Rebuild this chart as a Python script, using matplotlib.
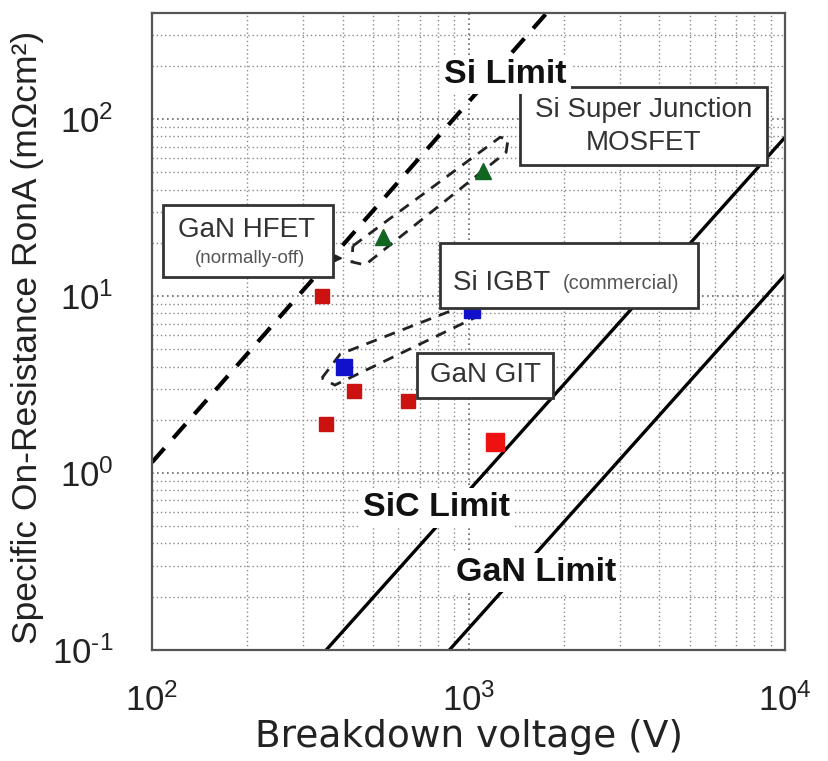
import math
import matplotlib
matplotlib.use("Agg")
import matplotlib.pyplot as plt
from matplotlib.patches import Polygon, Rectangle
from matplotlib.ticker import LogLocator, NullFormatter, FuncFormatter

plt.rcParams["font.family"] = ["Liberation Sans", "DejaVu Sans"]
plt.rcParams["mathtext.fontset"] = "custom"
plt.rcParams["mathtext.rm"] = "Liberation Sans"
plt.rcParams["mathtext.it"] = "Liberation Sans"

# material limits (breakdown voltage V, specific on-resistance mOhm cm2)
si_limit_v = [100, 1770]
si_limit_ron = [1.15, 400]
sic_limit_v = [355, 10000]
sic_limit_ron = [0.1, 79]
gan_limit_v = [870, 10000]
gan_limit_ron = [0.1, 13.2]

# reported devices
gan_git_v = [345, 355, 435, 645]
gan_git_ron = [10, 1.9, 2.9, 2.55]
gan_git_best_v = [1210]
gan_git_best_ron = [1.5]
si_igbt_v = [405, 1025]
si_igbt_ron = [4.0, 8.3]
gan_hfet_v = [535, 1110]
gan_hfet_ron = [21.5, 51]

# outlines of the device regions
sj_region_v = [431, 1258, 1333, 1314, 471, 428]
sj_region_ron = [19.2, 79, 77, 65, 15.0, 15.6]
igbt_region_v = [344, 393, 1072, 1119, 1040, 378]
igbt_region_ron = [3.44, 4.70, 9.48, 8.78, 7.51, 3.14]


def pow10(val, pos):
    e = int(round(math.log10(val)))
    return r"$10^{\text{%d}}$" % e


fig = plt.figure(figsize=(8.29, 7.61), dpi=100)
ax = fig.add_axes([0.1834, 0.1459, 0.7636, 0.837])
ax.set_xscale("log")
ax.set_yscale("log")
ax.set_xlim(100, 10000)
ax.set_ylim(0.1, 398)

ax.xaxis.set_minor_locator(LogLocator(base=10, subs=range(2, 10)))
ax.yaxis.set_minor_locator(LogLocator(base=10, subs=range(2, 10)))
ax.xaxis.set_major_formatter(FuncFormatter(pow10))
ax.yaxis.set_major_formatter(FuncFormatter(pow10))
ax.xaxis.set_minor_formatter(NullFormatter())
ax.yaxis.set_minor_formatter(NullFormatter())
ax.grid(True, which="major", color="#666666", linestyle=(0, (1, 2)), linewidth=1.2)
ax.grid(True, which="minor", color="#8a8a8a", linestyle=(0, (1, 2)), linewidth=1.0)
ax.set_axisbelow(True)
ax.tick_params(which="both", length=0, labelsize=25, colors="#222222")
ax.tick_params(axis="x", pad=24)
ax.tick_params(axis="y", pad=28)
for s in ax.spines.values():
    s.set_color("#555555")
    s.set_linewidth(1.6)

ax.plot(si_limit_v, si_limit_ron, color="black", lw=3.0, linestyle=(0, (4.5, 3.2)), zorder=2)
ax.plot(sic_limit_v, sic_limit_ron, color="black", lw=2.4, zorder=2)
ax.plot(gan_limit_v, gan_limit_ron, color="black", lw=2.4, zorder=2)

for vv, rr in [(sj_region_v, sj_region_ron), (igbt_region_v, igbt_region_ron)]:
    ax.add_patch(Polygon(list(zip(vv, rr)), closed=True, fill=False, edgecolor="#222222",
                         lw=2.0, linestyle=(0, (4, 3)), zorder=2))

ax.plot(gan_git_v, gan_git_ron, "s", color="#cc1111", ms=10, zorder=3)
ax.plot(gan_git_best_v, gan_git_best_ron, "s", color="#ee1111", ms=13, zorder=3)
ax.plot(si_igbt_v, si_igbt_ron, "s", color="#1111cc", ms=11, zorder=3)
ax.plot(gan_hfet_v, gan_hfet_ron, "^", color="#116622", ms=11, zorder=3)

# labelled boxes (axes fraction)
boxes = [
    (0.581, 0.761, 0.391, 0.123),
    (0.0174, 0.586, 0.2686, 0.113),
    (0.455, 0.537, 0.408, 0.102),
    (0.419, 0.396, 0.215, 0.070),
]
for x0, y0, w, h in boxes:
    ax.add_patch(Rectangle((x0, y0), w, h, transform=ax.transAxes, facecolor="white",
                           edgecolor="#333333", lw=2.0, zorder=4))

tc = "#333333"
ax.text(0.776, 0.848, "Si Super Junction", transform=ax.transAxes, ha="center", va="center",
        fontsize=20, color=tc, zorder=5)
ax.text(0.776, 0.796, "MOSFET", transform=ax.transAxes, ha="center", va="center",
        fontsize=20, color=tc, zorder=5)
ax.text(0.150, 0.659, "GaN HFET", transform=ax.transAxes, ha="center", va="center",
        fontsize=20, color=tc, zorder=5)
ax.text(0.155, 0.615, "(normally-off)", transform=ax.transAxes, ha="center", va="center",
        fontsize=13.5, color="#555555", zorder=5)
ax.text(0.476, 0.576, "Si IGBT", transform=ax.transAxes, ha="left", va="center",
        fontsize=20, color=tc, zorder=5)
ax.text(0.649, 0.576, "(commercial)", transform=ax.transAxes, ha="left", va="center",
        fontsize=14.5, color="#555555", zorder=5)
ax.text(0.526, 0.432, "GaN GIT", transform=ax.transAxes, ha="center", va="center",
        fontsize=20, color=tc, zorder=5)

# pointer from the HFET box to its region
ax.annotate("", xy=(0.306, 0.615), xytext=(0.286, 0.615), xycoords="axes fraction",
            arrowprops=dict(arrowstyle="-|>", color="#222222", lw=1.5, mutation_scale=10),
            zorder=5)

lim_kw = dict(transform=ax.transAxes, ha="center", va="center", fontsize=24.5,
              fontweight="bold", color="#111111", zorder=5,
              bbox=dict(facecolor="white", edgecolor="none", pad=3))
ax.text(0.558, 0.903, "Si Limit", **lim_kw)
ax.text(0.450, 0.223, "SiC Limit", **lim_kw)
ax.text(0.607, 0.122, "GaN Limit", **lim_kw)

ax.set_xlabel("Breakdown voltage (V)", fontsize=27, family="DejaVu Sans", color="#222222",
              va="center")
ax.xaxis.set_label_coords(0.50, -0.137)
ax.set_ylabel("Specific On-Resistance RonA (mΩcm²)", fontsize=25.5, color="#222222",
              va="center")
ax.yaxis.set_label_coords(-0.196, 0.49)

fig.savefig("out.png", dpi=100)
